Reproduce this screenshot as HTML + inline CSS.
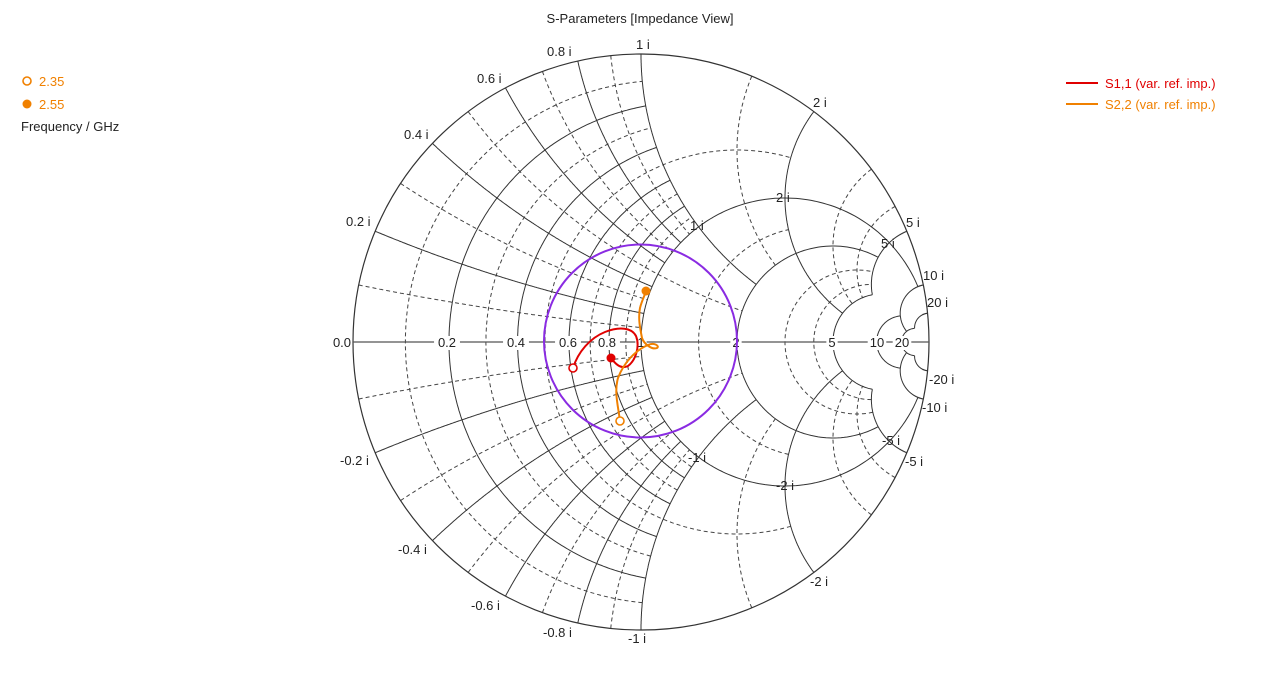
<!DOCTYPE html>
<html><head><meta charset="utf-8"><style>
html,body{margin:0;padding:0;background:#fff;}
svg{display:block;font-family:"Liberation Sans","DejaVu Sans",sans-serif;font-size:13px;}
</style></head><body>
<svg id="s" width="1280" height="682" viewBox="0 0 1280 682" xmlns="http://www.w3.org/2000/svg">
<defs><clipPath id="c"><circle cx="641" cy="342" r="288"/></clipPath></defs>
<text x="640" y="23" text-anchor="middle" fill="#222" font-size="13">S-Parameters [Impedance View]</text>
<g id="grid" clip-path="url(#c)" fill="none"></g>
<circle cx="641" cy="342" r="288" fill="none" stroke="#333" stroke-width="1.2"/>
<line x1="353" y1="342" x2="929" y2="342" stroke="#555" stroke-width="1.2"/>
<g id="lab" fill="#222" font-size="13"></g>
<circle cx="640.5" cy="341" r="96.5" fill="none" stroke="#8a2be2" stroke-width="2"/>
<path d="M573,368 C578,352 590,338 605,332 C620,326 632,328 636,336 C640,346 636,360 628,366 C620,370 614,362 611,358" fill="none" stroke="#e00000" stroke-width="2"/>
<circle cx="573" cy="368" r="4" fill="#fff" stroke="#e00000" stroke-width="1.6"/>
<circle cx="611" cy="358" r="4.5" fill="#e00000"/>
<path d="M620,421 C618,405 614,392 618,378 C624,362 636,350 648,345 C654,342 660,346 657,348 C652,350 644,344 642,338 C640,328 638,318 640,308 C642,300 645,295 646,291" fill="none" stroke="#f08000" stroke-width="2"/>
<circle cx="620" cy="421" r="4" fill="#fff" stroke="#f08000" stroke-width="1.6"/>
<circle cx="646" cy="291" r="4.5" fill="#f08000"/>
<circle cx="27" cy="81" r="4" fill="#fff" stroke="#f08000" stroke-width="1.6"/>
<text x="39" y="86" fill="#f08000">2.35</text>
<circle cx="27" cy="104" r="4.5" fill="#f08000"/>
<text x="39" y="109" fill="#f08000">2.55</text>
<text x="21" y="131" fill="#222">Frequency / GHz</text>
<line x1="1066" y1="83" x2="1098" y2="83" stroke="#e00000" stroke-width="2"/>
<text x="1105" y="88" fill="#e00000">S1,1 (var. ref. imp.)</text>
<line x1="1066" y1="104" x2="1098" y2="104" stroke="#f08000" stroke-width="2"/>
<text x="1105" y="109" fill="#f08000">S2,2 (var. ref. imp.)</text>
</svg>
<script>
var CX=641,CY=342,R=288,NS="http://www.w3.org/2000/svg";
function P(r,x){var dr=r+1,den=dr*dr+x*x;var gr=((r-1)*(r+1)+x*x)/den,gi=(2*x)/den;return [CX+R*gr,CY-R*gi];}
var g=document.getElementById('grid');
function path(pts,dash){var d='M'+pts.map(function(p){return p[0].toFixed(1)+','+p[1].toFixed(1)}).join('L');
var e=document.createElementNS(NS,'path');e.setAttribute('d',d);e.setAttribute('stroke',dash?'#444':'#333');
e.setAttribute('stroke-width',1);if(dash)e.setAttribute('stroke-dasharray','4,3');g.appendChild(e);}
function rc(r,X,dash){var pts=[];for(var i=0;i<=300;i++){var t=-Math.atan(X)+2*Math.atan(X)*i/300;pts.push(P(r,Math.tan(t)));}path(pts,dash);}
function xc(x,Rm,dash){[1,-1].forEach(function(s){var pts=[];for(var i=0;i<=300;i++){var t=Math.atan(Rm)*i/300;pts.push(P(Math.tan(t),s*x));}path(pts,dash);});}
[0.1,0.3,0.7,0.9].forEach(function(v){rc(v,1,1);xc(v,1,1)});
[0.2,0.4,0.6,0.8].forEach(function(v){rc(v,1,0);xc(v,1,0)});
rc(0.5,2,1);xc(0.5,2,1);
rc(1.5,2,1);xc(1.5,2,1);
[3,4].forEach(function(v){rc(v,5,1);xc(v,5,1)});
rc(1,10,0);xc(1,2,0);
rc(2,5,0);xc(2,5,0);
rc(5,5,0);xc(5,5,0);
rc(10,10,0);xc(10,20,0);
rc(20,20,0);xc(20,20,0);
var L=document.getElementById('lab');
function T(x,y,s,a){var e=document.createElementNS(NS,'text');e.setAttribute('x',x);e.setAttribute('y',y);if(a)e.setAttribute('text-anchor',a);e.textContent=s;L.appendChild(e);}
function TB(x,y,s){var w=s.length*7.3+4;var b=document.createElementNS(NS,'rect');b.setAttribute('x',x-w/2);b.setAttribute('y',y-11);b.setAttribute('width',w);b.setAttribute('height',14);b.setAttribute('fill','#fff');L.appendChild(b);T(x,y,s,'middle');}
T(342,347,'0.0','middle');TB(447,347,'0.2');TB(516,347,'0.4');TB(568,347,'0.6');TB(607,347,'0.8');TB(641,347,'1');TB(736,347,'2');TB(832,347,'5');TB(877,347,'10');TB(902,347,'20');
T(547,56,'0.8 i');T(477,83,'0.6 i');T(404,139,'0.4 i');T(346,226,'0.2 i');T(636,49,'1 i');T(813,107,'2 i');T(906,227,'5 i');T(923,280,'10 i');T(927,307,'20 i');
T(690,230,'1 i');T(776,202,'2 i');T(881,248,'5 i');
T(340,465,'-0.2 i');T(398,554,'-0.4 i');T(471,610,'-0.6 i');T(543,637,'-0.8 i');T(628,643,'-1 i');T(810,586,'-2 i');T(905,466,'-5 i');T(922,412,'-10 i');T(929,384,'-20 i');
T(688,462,'-1 i');T(776,490,'-2 i');T(882,445,'-5 i');
</script>
</body></html>
